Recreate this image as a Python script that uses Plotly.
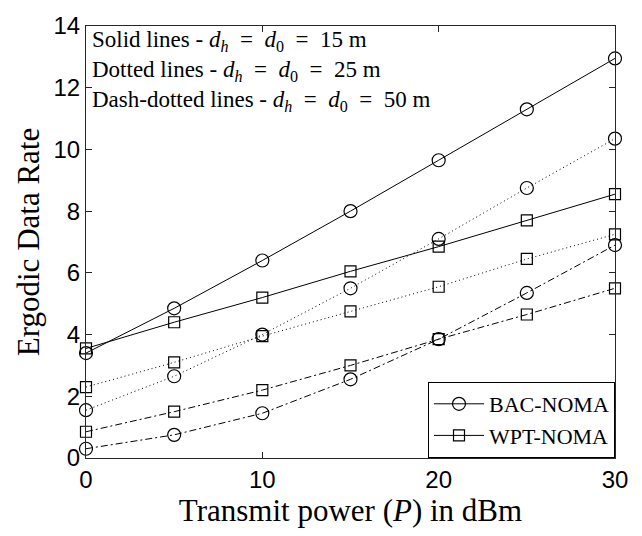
import plotly.graph_objects as go

power_dbm = [0, 5, 10, 15, 20, 25, 30]

bac_15 = [3.4, 4.85, 6.4, 8.0, 9.65, 11.3, 12.95]
wpt_15 = [3.55, 4.4, 5.2, 6.05, 6.85, 7.7, 8.55]
bac_25 = [1.55, 2.65, 4.0, 5.5, 7.1, 8.75, 10.35]
wpt_25 = [2.3, 3.1, 3.95, 4.75, 5.55, 6.45, 7.25]
bac_50 = [0.3, 0.75, 1.45, 2.55, 3.85, 5.35, 6.9]
wpt_50 = [0.85, 1.5, 2.2, 3.0, 3.85, 4.65, 5.5]

x_ticks = [0, 10, 20, 30]
y_ticks = [0, 2, 4, 6, 8, 10, 12, 14]

eq = "<i>d</i><sub><i>h</i></sub>&nbsp; = &nbsp;<i>d</i><sub>0</sub>&nbsp; = &nbsp;"
note_lines = [
    "Solid lines - " + eq + "15 m",
    "Dotted lines - " + eq + "25 m",
    "Dash-dotted lines - " + eq + "50 m",
]

serif = "Liberation Serif"
sans = "Liberation Sans"

fig = go.Figure()

series = [
    ("BAC-NOMA", bac_15, "solid", "circle-open", True),
    ("WPT-NOMA", wpt_15, "solid", "square-open", True),
    ("BAC-NOMA", bac_25, "1px,3px", "circle-open", False),
    ("WPT-NOMA", wpt_25, "1px,3px", "square-open", False),
    ("BAC-NOMA", bac_50, "7px,3px,2px,3px", "circle-open", False),
    ("WPT-NOMA", wpt_50, "7px,3px,2px,3px", "square-open", False),
]

for name, vals, dash, sym, show in series:
    fig.add_trace(go.Scatter(
        x=power_dbm, y=vals, name=name, showlegend=show,
        mode="lines+markers",
        line=dict(color="black", width=1, dash=dash),
        marker=dict(symbol=sym, size=13 if sym.startswith("circle") else 11,
                    color="black", line=dict(width=1.2, color="black")),
        cliponaxis=False,
    ))

fig.add_annotation(
    x=0.008, y=1.003, xref="paper", yref="paper",
    xanchor="left", yanchor="top", align="left", showarrow=False,
    text="<br>".join(note_lines),
    font=dict(family=serif, size=23, color="black"),
)

fig.update_layout(
    width=642, height=536,
    margin=dict(l=86, r=27, t=16, b=78),
    plot_bgcolor="white", paper_bgcolor="white",
    showlegend=True,
    legend=dict(
        x=1.0, y=0.0, xanchor="right", yanchor="bottom",
        bgcolor="white", bordercolor="black", borderwidth=1,
        font=dict(family=serif, size=22, color="black"),
        itemwidth=50, tracegroupgap=0,
    ),
)

fig.update_xaxes(
    range=[0, 30], tickvals=x_ticks,
    showline=True, linecolor="#262626", linewidth=1, mirror="ticks",
    ticks="inside", ticklen=6, tickcolor="#262626",
    showgrid=False, zeroline=False,
    tickfont=dict(family=sans, size=24, color="black"),
    title=dict(text="Transmit power (<i>P</i>) in dBm",
               font=dict(family=serif, size=31, color="black"), standoff=2),
)
fig.update_yaxes(
    range=[0, 14], tickvals=y_ticks,
    showline=True, linecolor="#262626", linewidth=1, mirror="ticks",
    ticks="inside", ticklen=6, tickcolor="#262626",
    showgrid=False, zeroline=False,
    tickfont=dict(family=sans, size=24, color="black"),
    title=dict(text="Ergodic Data Rate",
               font=dict(family=serif, size=31, color="black"), standoff=4),
)

fig.write_html("out.html")
